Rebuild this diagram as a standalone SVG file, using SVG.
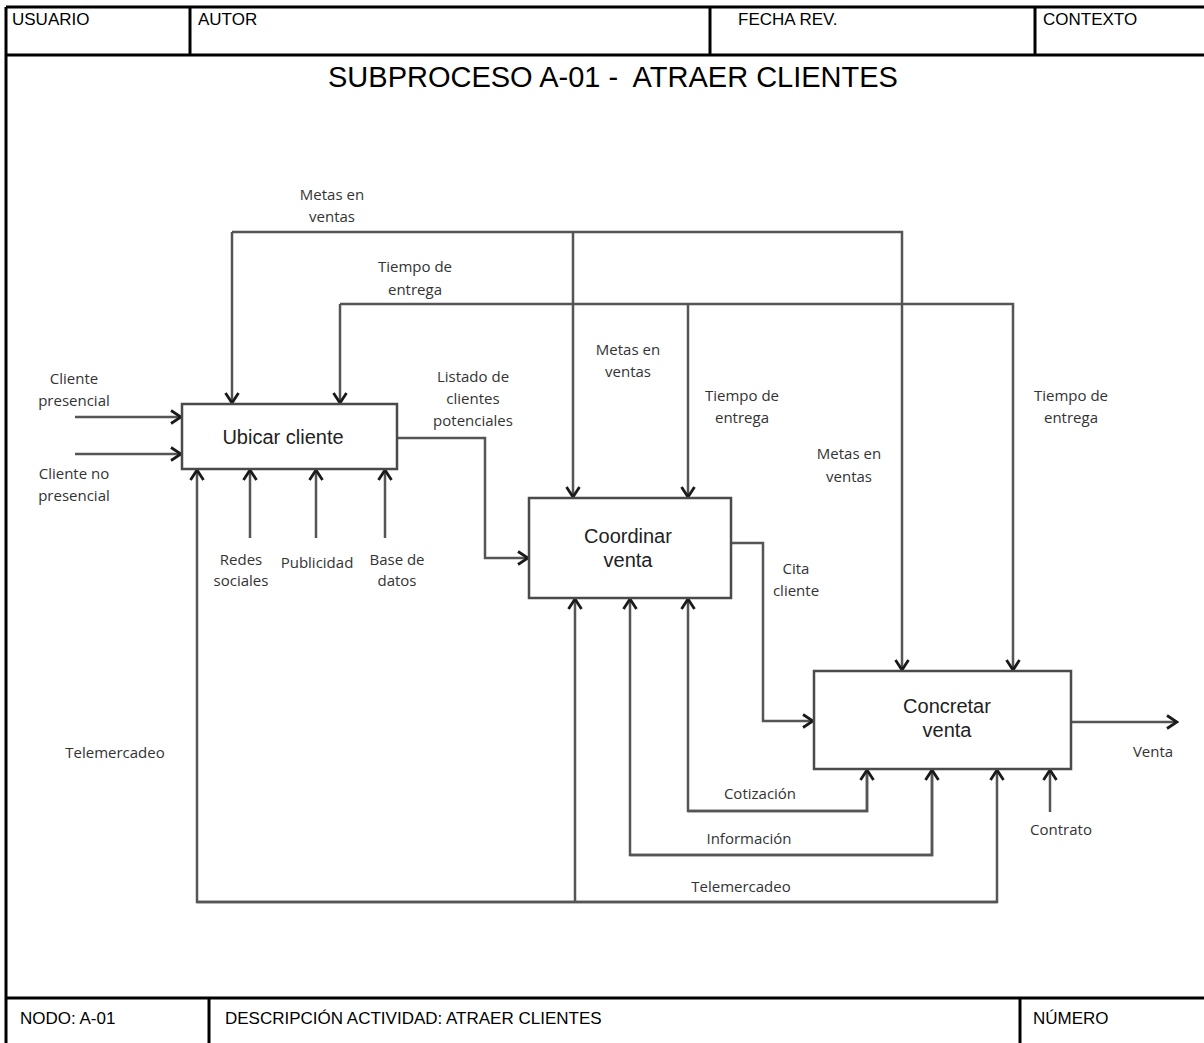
<svg xmlns="http://www.w3.org/2000/svg" width="1204" height="1043" viewBox="0 0 1204 1043">
<style>
.frame{stroke:#000;stroke-width:3;fill:none}
.hdr{font-family:"Liberation Sans",Arial,sans-serif;font-size:17px;fill:#000}
.title{font-family:"Liberation Sans",Arial,sans-serif;font-size:29px;fill:#000}
.box{fill:#fff;stroke:#4a4a4a;stroke-width:2.5}
.blabel{font-family:"Liberation Sans",Arial,sans-serif;font-size:20px;fill:#222;text-anchor:middle}
.conn path{fill:none;stroke:#555;stroke-width:2.5}
.lbl{font-family:"Open Sans","DejaVu Sans",sans-serif;font-size:15px;fill:#333;text-anchor:middle}
</style>
<defs>
<marker id="ah" markerUnits="userSpaceOnUse" viewBox="-14 -9 16 18" refX="0" refY="0" markerWidth="16" markerHeight="18" orient="auto">
<path d="M-10,-6.5 L0,0 L-10,6.5" fill="none" stroke="#1a1a1a" stroke-width="2.8" stroke-linejoin="miter"/>
</marker>
</defs>
<rect width="1204" height="1043" fill="#fff"/>
<g id="frame">
<line class="frame" x1="6" y1="7" x2="1204" y2="7"/>
<line class="frame" x1="6" y1="55" x2="1204" y2="55"/>
<line class="frame" x1="6" y1="7" x2="6" y2="1043"/>
<line class="frame" x1="6" y1="998" x2="1204" y2="998"/>
<line class="frame" x1="190" y1="7" x2="190" y2="55" stroke-width="2"/>
<line class="frame" x1="710" y1="7" x2="710" y2="55" stroke-width="2"/>
<line class="frame" x1="1035" y1="7" x2="1035" y2="55" stroke-width="2"/>
<line class="frame" x1="209" y1="998" x2="209" y2="1043" stroke-width="2"/>
<line class="frame" x1="1020" y1="998" x2="1020" y2="1043" stroke-width="2"/>
<text class="hdr" x="12" y="25">USUARIO</text>
<text class="hdr" x="198" y="25">AUTOR</text>
<text class="hdr" x="738" y="25">FECHA REV.</text>
<text class="hdr" x="1043" y="25">CONTEXTO</text>
<text class="title" x="613" y="87" text-anchor="middle" xml:space="preserve">SUBPROCESO A-01 -  ATRAER CLIENTES</text>
<text class="hdr" x="20" y="1024">NODO: A-01</text>
<text class="hdr" x="225" y="1024">DESCRIPCIÓN ACTIVIDAD: ATRAER CLIENTES</text>
<text class="hdr" x="1033" y="1024">NÚMERO</text>
</g>
<g id="connectors" class="conn">
<path d="M232,232 H902 V670" marker-end="url(#ah)"/>
<path d="M232,232 V403" marker-end="url(#ah)"/>
<path d="M573,232 V497" marker-end="url(#ah)"/>
<path d="M340,304 H1013 V670" marker-end="url(#ah)"/>
<path d="M340,304 V403" marker-end="url(#ah)"/>
<path d="M688,304 V497" marker-end="url(#ah)"/>
<path d="M75,417 H181" marker-end="url(#ah)"/>
<path d="M75,454 H181" marker-end="url(#ah)"/>
<path d="M250,538 V470" marker-end="url(#ah)"/>
<path d="M316,538 V470" marker-end="url(#ah)"/>
<path d="M385,538 V470" marker-end="url(#ah)"/>
<path d="M397,438 H485 V558 H528" marker-end="url(#ah)"/>
<path d="M731,543 H763 V721 H813" marker-end="url(#ah)"/>
<path d="M1070,722 H1177" marker-end="url(#ah)"/>
<path d="M867,770 V811 H688 V599" marker-end="url(#ah)"/>
<path d="M688,811 H867 V770" marker-end="url(#ah)"/>
<path d="M932,770 V855 H630 V599" marker-end="url(#ah)"/>
<path d="M630,855 H932 V770" marker-end="url(#ah)"/>
<path d="M997,902 H197 V470" marker-end="url(#ah)"/>
<path d="M197,902 H997 V770" marker-end="url(#ah)"/>
<path d="M575,902 V599" marker-end="url(#ah)"/>
<path d="M1050,812 V770" marker-end="url(#ah)"/>
</g>
<g id="ubicar-cliente">
<rect class="box" x="182" y="404" width="215" height="65"/>
<text class="blabel" x="283" y="444">Ubicar cliente</text>
</g>
<g id="coordinar-venta">
<rect class="box" x="529" y="498" width="202" height="100"/>
<text class="blabel" x="628" y="543">Coordinar</text>
<text class="blabel" x="628" y="567">venta</text>
</g>
<g id="concretar-venta">
<rect class="box" x="814" y="671" width="257" height="98"/>
<text class="blabel" x="947" y="713">Concretar</text>
<text class="blabel" x="947" y="737">venta</text>
</g>
<g id="labels">
<text class="lbl" x="332" y="200">Metas en</text>
<text class="lbl" x="332" y="222">ventas</text>
<text class="lbl" x="415" y="272">Tiempo de</text>
<text class="lbl" x="415" y="295">entrega</text>
<text class="lbl" x="74" y="384">Cliente</text>
<text class="lbl" x="74" y="406">presencial</text>
<text class="lbl" x="74" y="479">Cliente no</text>
<text class="lbl" x="74" y="501">presencial</text>
<text class="lbl" x="473" y="382">Listado de</text>
<text class="lbl" x="473" y="404">clientes</text>
<text class="lbl" x="473" y="426">potenciales</text>
<text class="lbl" x="628" y="355">Metas en</text>
<text class="lbl" x="628" y="377">ventas</text>
<text class="lbl" x="742" y="401">Tiempo de</text>
<text class="lbl" x="742" y="423">entrega</text>
<text class="lbl" x="849" y="459">Metas en</text>
<text class="lbl" x="849" y="482">ventas</text>
<text class="lbl" x="1071" y="401">Tiempo de</text>
<text class="lbl" x="1071" y="423">entrega</text>
<text class="lbl" x="241" y="565">Redes</text>
<text class="lbl" x="241" y="586">sociales</text>
<text class="lbl" x="317" y="568">Publicidad</text>
<text class="lbl" x="397" y="565">Base de</text>
<text class="lbl" x="397" y="586">datos</text>
<text class="lbl" x="796" y="574">Cita</text>
<text class="lbl" x="796" y="596">cliente</text>
<text class="lbl" x="1153" y="757">Venta</text>
<text class="lbl" x="115" y="758">Telemercadeo</text>
<text class="lbl" x="760" y="799">Cotización</text>
<text class="lbl" x="749" y="844">Información</text>
<text class="lbl" x="741" y="892">Telemercadeo</text>
<text class="lbl" x="1061" y="835">Contrato</text>
</g>
</svg>
